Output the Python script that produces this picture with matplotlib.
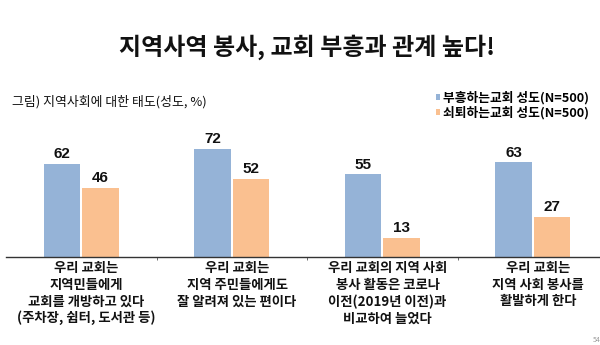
import matplotlib
matplotlib.use("Agg")
import matplotlib.pyplot as plt
import matplotlib.transforms as mtransforms
import numpy as np

plt.rcParams['font.family'] = ['Noto Sans CJK KR', 'DejaVu Sans']

title = "지역사역 봉사, 교회 부흥과 관계 높다!"
subtitle = "그림) 지역사회에 대한 태도(성도, %)"
categories = [
    "우리 교회는\n지역민들에게\n교회를 개방하고 있다\n(주차장, 쉼터, 도서관 등)",
    "우리 교회는\n지역 주민들에게도\n잘 알려져 있는 편이다",
    "우리 교회의 지역 사회\n봉사 활동은 코로나\n이전(2019년 이전)과\n비교하여 늘었다",
    "우리 교회는\n지역 사회 봉사를\n활발하게 한다",
]
series_names = ["부흥하는교회 성도(N=500)", "쇠퇴하는교회 성도(N=500)"]
growing = [62, 72, 55, 63]
declining = [46, 52, 13, 27]

blue = "#95B3D7"
orange = "#FAC090"

W, H = 600, 345
fig = plt.figure(figsize=(W / 100, H / 100), dpi=100)
fig.patch.set_facecolor("white")

ax = fig.add_axes([6 / W, (H - 257.3) / H, 602 / W, 80 * 1.508 / H])
x = np.arange(len(categories))
bw = 0.245
off = 0.128
b1 = ax.bar(x - off, growing, bw, color=blue, label=series_names[0])
b2 = ax.bar(x + off, declining, bw, color=orange, label=series_names[1])

for bars, vals in ((b1, growing), (b2, declining)):
    for rect, v in zip(bars, vals):
        ax.annotate(f"{v}", (rect.get_x() + rect.get_width() / 2, v),
                    xytext=(0, 4.1), textcoords="offset points",
                    ha="center", va="baseline", fontsize=11,
                    fontweight="bold", family="Liberation Sans", color="#111111")

ax.set_xlim(-0.5, len(categories) - 0.5)
ax.set_ylim(0, 80)
for s in ("left", "right", "top"):
    ax.spines[s].set_visible(False)
ax.spines["bottom"].set_color("#333333")
ax.spines["bottom"].set_linewidth(1.0)
ax.set_yticks([])
ax.set_xticks([])
ax.set_xticks(np.arange(len(categories) - 1) + 0.5, minor=True)
ax.tick_params(axis="x", which="minor", length=2.5, direction="out", color="#555555")

trans = mtransforms.blended_transform_factory(ax.transData, ax.transAxes)
for i, lab in enumerate(categories):
    t = ax.text(i + 0.035, 0, lab, ha="center", va="top",
                fontsize=9.6, fontweight="bold", linespacing=1.22, color="#111111")
    t.set_transform(trans + mtransforms.ScaledTranslation(0, -3 / 72, fig.dpi_scale_trans))

fig.text(306.7 / W, 1 - 47 / H, title, ha="center", va="center",
         fontsize=17.3, fontweight="bold", color="#111111")
fig.text(11.7 / W, 1 - 101.7 / H, subtitle, ha="left", va="center",
         fontsize=9.3, color="#111111")

fig.legend(handles=[b1, b2], labels=series_names, loc="upper left",
           bbox_to_anchor=(436 / W, 1 - 91.5 / H), frameon=False,
           borderpad=0, borderaxespad=0, handlelength=0.35, handleheight=0.35,
           handletextpad=0.2, labelspacing=0.12,
           prop={"size": 9.2, "weight": "bold"})

fig.text(593 / W, 1 - 340 / H, "54", ha="left", va="center", fontsize=5, color="#999999")

fig.savefig("out.png", dpi=100, facecolor="white")
